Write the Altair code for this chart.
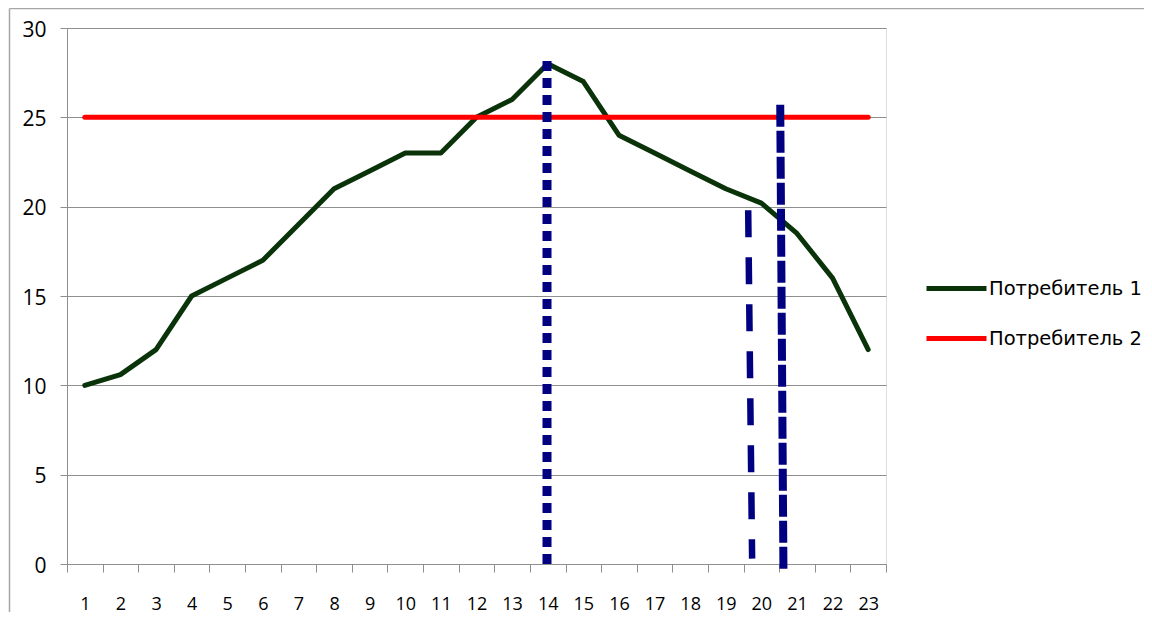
import altair as alt
import pandas as pd

hours = list(range(1, 24))
consumer1 = [10, 10.6, 12, 15, 16, 17, 19, 21, 22, 23, 23, 25, 26, 28, 27, 24, 23, 22, 21, 20.2, 18.5, 16, 12]
consumer2 = [25, 25, 25, 25, 25, 25, 25, 25, 25, 25, 25, 25, 25, 25, 25, 25, 25, 25, 25, 25, 25, 25, 25]
series_names = ["Потребитель 1", "Потребитель 2"]

# vertical markers (data coordinates): x at start / end, y at start / end
mark1_x = [13.98, 13.98]
mark1_y = [0, 28.2]
mark2_x = [19.63, 19.74]
mark2_y = [19.8, 0.3]
mark3_x = [20.53, 20.62]
mark3_y = [25.7, -0.35]

# category boundaries (ticks sit between the hour labels)
x_boundaries = [0.5, 1.5, 2.5, 3.5, 4.5, 5.5, 6.5, 7.5, 8.5, 9.5, 10.5, 11.5,
                12.5, 13.5, 14.5, 15.5, 16.5, 17.5, 18.5, 19.5, 20.5, 21.5, 22.5, 23.5]
y_ticks = [0, 5, 10, 15, 20, 25, 30]

rows = []
for h, v in zip(hours, consumer1):
    rows.append({"hour": h, "value": v, "series": series_names[0]})
for h, v in zip(hours, consumer2):
    rows.append({"hour": h, "value": v, "series": series_names[1]})
lines_df = pd.DataFrame(rows)

W, H = 819, 536
band = W / 23.0
FONT = "Open Sans"
GRAY = "#8f8f8f"

x_scale = alt.Scale(domain=[0.5, 23.5], nice=False, zero=False)
y_scale = alt.Scale(domain=[0, 30], nice=False, zero=True)

x_axis = alt.Axis(
    values=x_boundaries, tickCount=40, labelOffset=band / 2,
    labelExpr="datum.value > 23 ? '' : format(datum.value + 0.5, 'd')",
    grid=False, title=None, tickSize=8, tickColor=GRAY, domainColor=GRAY,
    labelFont=FONT, labelFontSize=18, labelColor="#000000", labelPadding=23,
    labelFlush=False, labelOverlap=False,
)
y_axis = alt.Axis(
    values=y_ticks, tickCount=10, grid=True, gridColor=GRAY, title=None, tickSize=7,
    tickColor=GRAY, domainColor=GRAY, labelFont=FONT, labelFontSize=21,
    labelColor="#000000", labelPadding=14, labelOffset=2,
)

lines = alt.Chart(lines_df).mark_line(strokeWidth=5, strokeCap="round", strokeJoin="round").encode(
    x=alt.X("hour:Q", scale=x_scale, axis=x_axis),
    y=alt.Y("value:Q", scale=y_scale, axis=y_axis),
    color=alt.Color(
        "series:N",
        scale=alt.Scale(domain=series_names, range=["#0a330a", "#ff0000"]),
        legend=alt.Legend(
            title=None, orient="none", legendX=857, legendY=228,
            symbolType="stroke", symbolSize=3600, symbolStrokeWidth=5,
            labelFont="DejaVu Sans", labelFontSize=19.5, labelColor="#000000",
            labelOffset=0, rowPadding=7,
        ),
    ),
    detail="series:N",
)


def vmark(xs, ys, dash, width):
    df = pd.DataFrame({"x": [xs[0]], "x2": [xs[1]], "y": [ys[0]], "y2": [ys[1]]})
    return alt.Chart(df).mark_rule(color="#000080", strokeWidth=width, strokeDash=dash).encode(
        x=alt.X("x:Q", scale=x_scale), x2="x2:Q",
        y=alt.Y("y:Q", scale=y_scale), y2="y2:Q",
    )


m1 = vmark(mark1_x, mark1_y, [10, 7], 9)
m2 = vmark(mark2_x, mark2_y, [27, 20], 6.5)
m3 = vmark(mark3_x, mark3_y, [22, 4], 8)

# light chart-area frame (decoration: only its top and left edges are visible)
frame_df = pd.DataFrame({"f": [0]})
frame_top = alt.Chart(frame_df).mark_rule(color="#a6a6a6", strokeWidth=1.5, clip=False).encode(
    x=alt.value(-57.5), x2=alt.value(W + 300), y=alt.value(-19.5),
)
frame_left = alt.Chart(frame_df).mark_rule(color="#a6a6a6", strokeWidth=1.5, clip=False).encode(
    x=alt.value(-57.5), y=alt.value(-19.5), y2=alt.value(H + 48),
)

chart = alt.layer(frame_top, frame_left, lines, m1, m2, m3).properties(
    width=W, height=H,
    autosize=alt.AutoSizeParams(type="none"),
    padding={"left": 59, "top": 20, "right": 258, "bottom": 50},
).configure_view(stroke=None).configure(background="#ffffff")

chart.save("out.html", embed_options={"renderer": "svg", "actions": False})
